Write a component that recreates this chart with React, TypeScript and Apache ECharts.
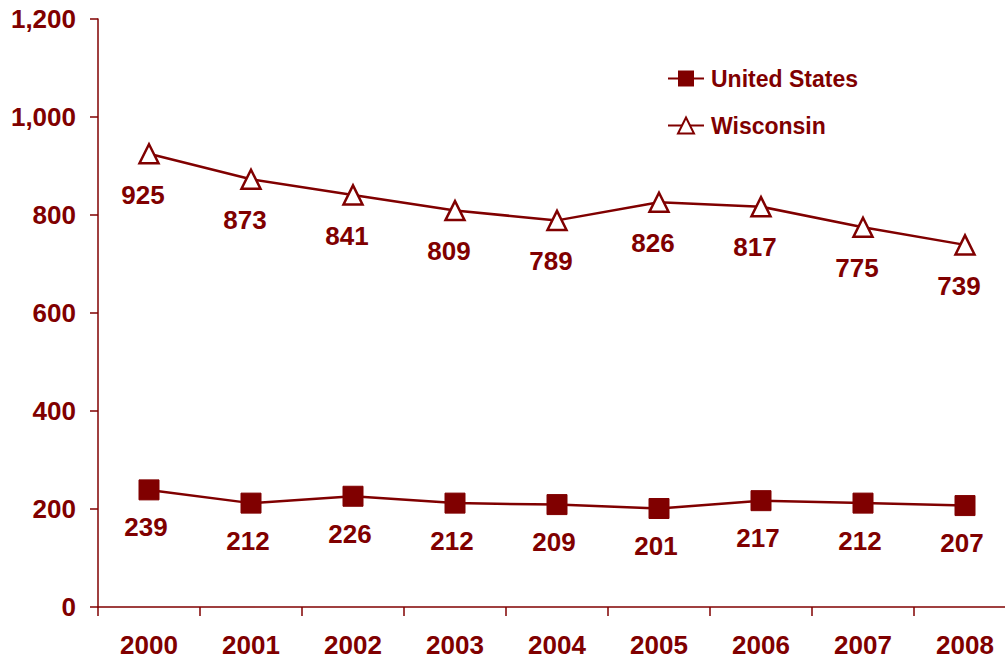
import React, { useEffect, useRef } from "react";
import * as echarts from "echarts";

const years = ["2000", "2001", "2002", "2003", "2004", "2005", "2006", "2007", "2008"];
const unitedStates = [239, 212, 226, 212, 209, 201, 217, 212, 207];
const wisconsin = [925, 873, 841, 809, 789, 826, 817, 775, 739];
const seriesNames = ["United States", "Wisconsin"];

const RED = "#800000";
const FONT = "Liberation Sans, Arial, sans-serif";

export default function App() {
  const ref = useRef<HTMLDivElement>(null);
  useEffect(() => {
    if (!ref.current) return;
    const chart = echarts.init(ref.current, null, { renderer: "svg" });
    chart.setOption({
      animation: false,
      backgroundColor: "#ffffff",
      grid: { left: 98, right: 0, top: 19, bottom: 55, containLabel: false },
      legend: {
        orient: "vertical",
        left: 662,
        top: 62,
        itemWidth: 36,
        itemHeight: 20,
        itemGap: 24,
        data: seriesNames,
        textStyle: { color: RED, fontWeight: "bold", fontSize: 23, fontFamily: FONT, padding: [0, 0, 0, 2] },
      },
      xAxis: {
        type: "category",
        data: years,
        boundaryGap: true,
        axisLine: { lineStyle: { color: RED, width: 1.5 } },
        axisTick: { show: true, length: 9, alignWithLabel: false, lineStyle: { color: RED, width: 1.5 } },
        axisLabel: { color: RED, fontWeight: "bold", fontSize: 26, fontFamily: FONT, margin: 25 },
        splitLine: { show: false },
      },
      yAxis: {
        type: "value",
        min: 0,
        max: 1200,
        interval: 200,
        axisLine: { show: true, lineStyle: { color: RED, width: 1.5 } },
        axisTick: { show: true, length: 8, lineStyle: { color: RED, width: 1.5 } },
        axisLabel: {
          color: RED,
          fontWeight: "bold",
          fontSize: 26,
          fontFamily: FONT,
          margin: 22,
          formatter: (v: number) => v.toLocaleString("en-US"),
        },
        splitLine: { show: false },
      },
      series: [
        {
          name: seriesNames[0],
          type: "line",
          data: unitedStates,
          symbol: "rect",
          symbolSize: 20,
          lineStyle: { color: RED, width: 2.5 },
          itemStyle: { color: RED, borderColor: RED },
          label: {
            show: true,
            position: "bottom",
            distance: 14,
            offset: [-3, 0],
            color: RED,
            fontWeight: "bold",
            fontSize: 26,
            fontFamily: FONT,
          },
        },
        {
          name: seriesNames[1],
          type: "line",
          data: wisconsin,
          symbol: "triangle",
          symbolSize: 19,
          lineStyle: { color: RED, width: 2.5 },
          itemStyle: { color: "#ffffff", borderColor: RED, borderWidth: 2.5 },
          label: {
            show: true,
            position: "bottom",
            distance: 17,
            offset: [-6, 0],
            color: RED,
            fontWeight: "bold",
            fontSize: 26,
            fontFamily: FONT,
          },
        },
      ],
    });
    return () => chart.dispose();
  }, []);
  return (
    <div style={{ position: "absolute", left: 0, top: 0, width: 1005, height: 662, overflow: "hidden" }}>
      <div ref={ref} style={{ width: 1016, height: 662 }} />
    </div>
  );
}
